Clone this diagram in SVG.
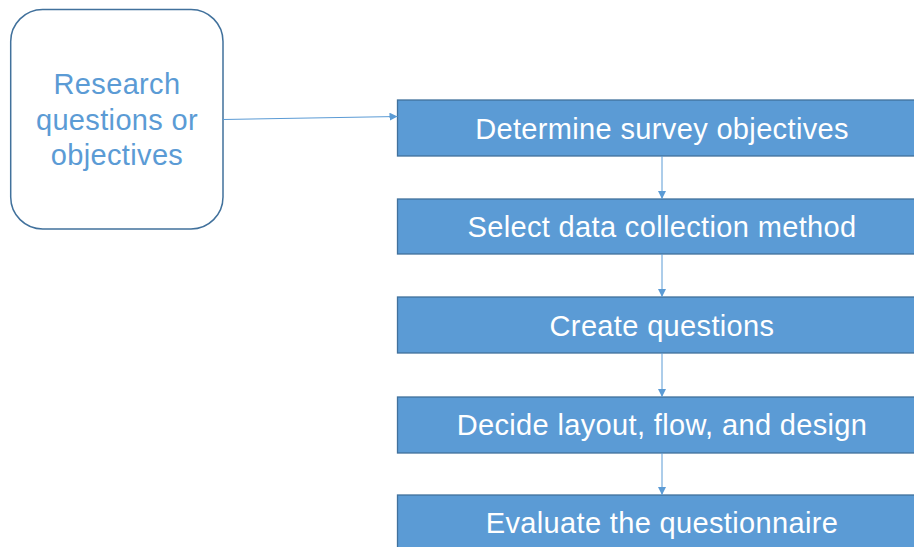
<svg xmlns="http://www.w3.org/2000/svg" width="914" height="547" viewBox="0 0 914 547">
<defs>
<style>
.box{fill:#5B9BD5;stroke:#41719C;stroke-width:1.3}
.bt{fill:#FFFFFF;font-family:"Liberation Sans",Arial,sans-serif;font-size:29px;letter-spacing:0.35px;text-anchor:middle}
.st{fill:#5B9BD5;font-family:"Liberation Sans",Arial,sans-serif;font-size:29px;letter-spacing:0.35px;text-anchor:middle}
.conn{stroke:#5B9BD5;stroke-width:1;fill:none;marker-end:url(#ah)}
</style>
<marker id="ah" viewBox="0 0 10 10" refX="10" refY="5" markerWidth="8" markerHeight="8" markerUnits="userSpaceOnUse" orient="auto">
<path d="M0,0 L10,5 L0,10 Z" fill="#5B9BD5"/>
</marker>
</defs>
<rect width="914" height="547" fill="#FFFFFF"/>
<g id="start">
<rect x="10.7" y="9.5" width="212.3" height="219.5" rx="32" ry="32" fill="#FFFFFF" stroke="#41719C" stroke-width="1.5"/>
<text class="st" x="117" y="94">Research</text>
<text class="st" x="117" y="130">questions or</text>
<text class="st" x="117" y="165">objectives</text>
</g>
<g id="n1">
<rect class="box" x="397.5" y="100" width="529" height="56"/>
<text class="bt" x="662" y="139">Determine survey objectives</text>
</g>
<g id="n2">
<rect class="box" x="397.5" y="199" width="529" height="55"/>
<text class="bt" x="662" y="237">Select data collection method</text>
</g>
<g id="n3">
<rect class="box" x="397.5" y="297" width="529" height="56"/>
<text class="bt" x="662" y="336">Create questions</text>
</g>
<g id="n4">
<rect class="box" x="397.5" y="397" width="529" height="56"/>
<text class="bt" x="662" y="435">Decide layout, flow, and design</text>
</g>
<g id="n5">
<rect class="box" x="397.5" y="495" width="529" height="60"/>
<text class="bt" x="662" y="533">Evaluate the questionnaire</text>
</g>
<g id="connectors">
<line class="conn" x1="223" y1="119.5" x2="397.5" y2="116.5"/>
<line class="conn" x1="662" y1="156" x2="662" y2="199"/>
<line class="conn" x1="662" y1="254" x2="662" y2="297"/>
<line class="conn" x1="662" y1="353" x2="662" y2="397"/>
<line class="conn" x1="662" y1="453" x2="662" y2="495"/>
</g>
</svg>
